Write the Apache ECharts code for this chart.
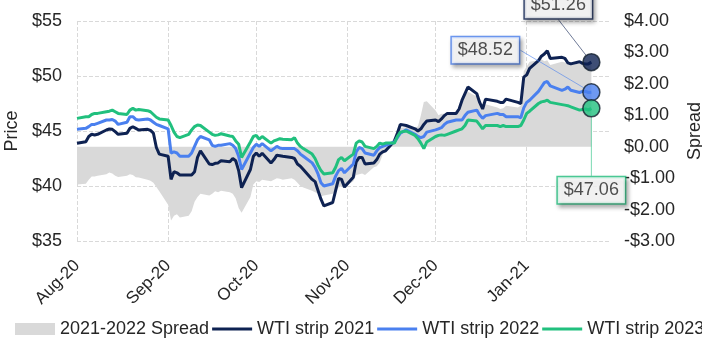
<!DOCTYPE html>
<html>
<head>
<meta charset="utf-8">
<script src="https://cdn.jsdelivr.net/npm/echarts@6/dist/echarts.min.js"></script>
<style>
  html, body { margin: 0; padding: 0; background: #ffffff; }
  #chart { width: 702px; height: 341px; }
</style>
</head>
<body>
<div id="chart"></div>
<script>
// Settlement dates of the calendar-strip series
const tradeDates = [
  '2020-08-07','2020-08-10','2020-08-11','2020-08-12','2020-08-13','2020-08-14',
  '2020-08-17','2020-08-18','2020-08-19','2020-08-20','2020-08-21',
  '2020-08-24','2020-08-25','2020-08-26','2020-08-27','2020-08-28',
  '2020-08-31','2020-09-01','2020-09-02','2020-09-03','2020-09-04',
  '2020-09-07','2020-09-08','2020-09-09','2020-09-10','2020-09-11',
  '2020-09-14','2020-09-15','2020-09-16','2020-09-17','2020-09-18',
  '2020-09-21','2020-09-22','2020-09-23','2020-09-24','2020-09-25',
  '2020-09-28','2020-09-29','2020-09-30','2020-10-01','2020-10-02',
  '2020-10-05','2020-10-06','2020-10-07','2020-10-08','2020-10-09',
  '2020-10-12','2020-10-13','2020-10-14','2020-10-15','2020-10-16',
  '2020-10-19','2020-10-20','2020-10-21','2020-10-22','2020-10-23',
  '2020-10-26','2020-10-27','2020-10-28','2020-10-29','2020-10-30',
  '2020-11-02','2020-11-03','2020-11-04','2020-11-05','2020-11-06',
  '2020-11-09','2020-11-10','2020-11-11','2020-11-12','2020-11-13',
  '2020-11-16','2020-11-17','2020-11-18','2020-11-19','2020-11-20',
  '2020-11-23','2020-11-24','2020-11-25','2020-11-27',
  '2020-11-30','2020-12-01','2020-12-02','2020-12-03','2020-12-04',
  '2020-12-07','2020-12-08','2020-12-09','2020-12-10','2020-12-11',
  '2020-12-14','2020-12-15','2020-12-16','2020-12-17','2020-12-18',
  '2020-12-21','2020-12-22','2020-12-23','2020-12-24',
  '2020-12-28','2020-12-29','2020-12-30','2020-12-31',
  '2021-01-04','2021-01-05','2021-01-06','2021-01-07','2021-01-08',
  '2021-01-11','2021-01-12','2021-01-13','2021-01-14','2021-01-15',
  '2021-01-19','2021-01-20','2021-01-21','2021-01-22',
  '2021-01-25','2021-01-26','2021-01-27','2021-01-28','2021-01-29'
];

// WTI calendar strip prices, $/bbl
const wti2021 = [
  43.88,44.03,44.50,44.70,44.64,44.70,
  45.09,45.18,45.15,44.94,44.70,
  44.79,45.24,45.39,45.24,45.09,
  45.15,45.05,44.80,43.50,42.90,
  42.70,40.60,41.30,41.20,41.00,
  41.00,41.00,41.30,42.60,43.20,
  42.00,41.95,42.06,42.10,42.30,
  42.20,42.50,42.30,41.40,39.85,
  41.50,42.70,43.00,42.70,42.97,
  42.10,42.40,42.80,42.75,42.70,
  42.60,42.50,42.00,41.80,41.50,
  40.60,40.40,39.60,38.80,38.20,
  38.50,39.60,40.70,40.60,39.90,
  40.80,42.20,42.60,42.60,42.00,
  42.10,42.40,42.90,43.10,43.20,
  44.10,44.80,45.60,45.50,
  45.20,45.00,45.20,45.60,45.90,
  46.00,45.85,46.10,46.40,46.60,
  46.60,47.00,47.80,48.40,49.00,
  48.40,47.60,47.00,47.90,
  47.70,47.60,47.60,47.90,
  47.60,47.50,49.90,50.10,50.70,
  51.40,51.80,52.00,52.30,51.60,
  51.70,51.60,51.20,51.10,
  51.30,51.15,51.10,51.10,51.26
];
const wti2022 = [
  45.15,45.24,45.40,45.60,45.60,45.70,
  46.00,46.00,46.05,45.90,45.60,
  45.80,46.30,46.30,46.05,46.00,
  46.10,46.00,45.80,45.60,45.50,
  45.20,43.00,43.10,43.00,42.70,
  42.70,43.00,43.60,44.20,44.50,
  44.20,43.70,43.60,43.70,43.70,
  43.85,43.70,43.40,42.70,41.50,
  43.00,43.50,43.80,43.60,43.85,
  43.20,43.40,43.60,43.45,43.40,
  43.40,43.40,43.20,42.90,42.70,
  42.10,41.70,41.10,40.30,40.00,
  40.20,40.90,41.40,41.60,41.20,
  42.00,43.10,43.50,43.40,43.00,
  42.80,43.20,43.50,43.60,43.70,
  44.00,44.40,44.80,45.10,
  44.70,44.50,44.40,44.50,44.90,
  45.10,45.20,45.30,45.60,45.80,
  46.00,46.00,46.00,46.40,46.70,
  46.90,46.45,46.15,46.40,
  46.60,46.50,46.50,46.30,
  46.30,46.20,47.10,47.60,47.80,
  48.60,49.00,49.40,49.50,49.10,
  48.70,48.80,49.00,48.70,
  48.50,48.60,48.60,48.50,48.52
];
const wti2023 = [
  46.15,46.30,46.30,46.50,46.60,46.60,
  46.75,46.80,46.90,46.75,46.60,
  46.50,46.90,47.06,46.90,46.95,
  46.85,46.75,46.50,46.25,46.10,
  46.00,45.50,44.90,44.50,44.40,
  44.70,45.10,45.40,45.55,45.50,
  44.90,44.70,44.60,44.65,44.75,
  44.55,44.50,44.10,43.80,42.60,
  44.00,44.50,44.60,44.25,44.50,
  43.90,44.10,44.20,44.30,44.25,
  44.20,44.40,43.90,43.60,43.40,
  42.90,42.50,41.90,41.40,41.10,
  41.20,41.70,42.40,42.60,42.30,
  42.90,43.90,44.10,44.00,43.60,
  43.40,43.60,43.90,43.80,43.90,
  43.90,44.50,44.90,45.00,
  44.60,44.30,43.90,43.40,44.00,
  44.50,44.60,44.65,44.60,44.70,
  45.00,45.10,45.20,45.50,46.00,
  45.90,45.55,45.20,45.50,
  45.50,45.40,45.50,45.40,
  45.40,45.50,46.00,46.60,46.80,
  47.50,47.65,47.70,47.80,47.60,
  47.40,47.35,47.30,47.20,
  46.90,46.95,47.00,46.90,47.06
];

// 2021-2022 calendar spread, $/bbl (right axis)
const spread2122 = [
  -1.20,-1.18,-1.05,-0.95,-0.95,-0.92,
  -0.88,-0.82,-0.85,-0.92,-0.96,
  -0.92,-0.88,-0.90,-0.97,-0.98,
  -1.05,-1.08,-1.15,-1.28,-1.42,
  -1.85,-2.35,-2.20,-2.15,-2.25,
  -2.20,-2.05,-1.75,-1.60,-1.50,
  -1.55,-1.50,-1.42,-1.45,-1.40,
  -1.45,-1.50,-1.65,-1.95,-2.10,
  -1.60,-1.20,-1.10,-1.12,-1.05,
  -1.10,-1.05,-1.00,-1.02,-1.05,
  -1.00,-1.05,-1.15,-1.25,-1.30,
  -1.40,-1.45,-1.50,-1.58,-1.55,
  -1.50,-1.40,-1.30,-1.25,-1.30,
  -1.10,-0.90,-0.88,-0.85,-0.90,
  -0.65,-0.62,-0.50,-0.25,-0.15,
  0.15,0.30,0.60,0.62,
  0.60,0.65,1.00,1.42,1.45,
  1.15,1.00,1.05,1.05,1.00,
  1.05,1.20,1.45,1.65,1.75,
  1.60,1.35,1.20,1.35,
  1.25,1.20,1.22,1.30,
  1.25,1.30,2.40,2.55,2.70,
  2.75,2.78,2.72,2.75,2.60,
  2.70,2.68,2.62,2.60,
  2.65,2.62,2.60,2.62,2.74
];

// Month ticks on the date axis
const tickDates  = ['2020-08-07','2020-09-07','2020-10-07','2020-11-07','2020-12-07','2021-01-07'];
const tickLabels = ['Aug-20','Sep-20','Oct-20','Nov-20','Dec-20','Jan-21'];
const axisEndDate = '2021-02-04';

const priceTicks  = { min: 35, max: 55, step: 5 };
const spreadTicks = { min: -3, max: 4, step: 1 };

const names = ['2021-2022 Spread', 'WTI strip 2021', 'WTI strip 2022', 'WTI strip 2023'];
const palette = {
  spread: '#d9d9d9',
  s2021: '#0e2252',
  s2022: '#4a80ef',
  s2023: '#21c07e'
};
const FONT = '"Liberation Sans", Arial, sans-serif';
const TEXT = '#262626';
// flat bar used as the legend key of the price lines
const LINE_KEY = 'path://M0,0H40V0.01H0Z M0,4.5H40V7.5H0Z M0,11.99H40V12H0Z';

// One category per calendar day so gaps follow real time
const DAY = 86400000;
const days = [];
for (let t = Date.parse(tradeDates[0] + 'T00:00:00Z'); t <= Date.parse(axisEndDate + 'T00:00:00Z'); t += DAY) {
  days.push(new Date(t).toISOString().slice(0, 10));
}
function onCalendar(values) {
  const byDate = {};
  tradeDates.forEach((d, i) => { byDate[d] = values[i]; });
  return days.map(d => (d in byDate ? byDate[d] : null));
}
const isTick = (idx, val) => tickDates.indexOf(val) >= 0;
const money = v => (v < 0 ? '-$' : '$') + Math.abs(v).toFixed(2);

function stripLine(name, values, color) {
  return {
    name, type: 'line', yAxisIndex: 0,
    data: onCalendar(values),
    connectNulls: true, symbol: 'none', showSymbol: false,
    lineStyle: { color, width: 3 },
    itemStyle: { color },
    z: 3, animation: false
  };
}

function endMarker(values, color, dx, dy) {
  const last = tradeDates.length - 1;
  return {
    type: 'scatter', yAxisIndex: 0,
    data: [[tradeDates[last], values[last]]],
    symbol: 'circle', symbolSize: 17,
    itemStyle: { color, borderColor: '#14202e', borderWidth: 1.5 },
    label: {
      show: true, position: 'inside',
      formatter: p => '$' + p.value[1].toFixed(2),
      fontFamily: FONT, fontSize: 18, color: TEXT,
      backgroundColor: '#ffffff', borderColor: color, borderWidth: 1.5,
      padding: [4, 6],
      shadowColor: 'rgba(0,0,0,0.35)', shadowBlur: 4, shadowOffsetX: 2, shadowOffsetY: 3
    },
    labelLayout: { dx, dy },
    labelLine: { show: true, length2: 0, lineStyle: { color, width: 1, opacity: 0.6 } },
    z: 6, animation: false
  };
}

const chart = echarts.init(document.getElementById('chart'), null, { renderer: 'canvas' });
chart.setOption({
  animation: false,
  backgroundColor: '#ffffff',
  textStyle: { fontFamily: FONT },
  grid: { left: 77, right: 93, top: 21, bottom: 100, outerBoundsMode: 'none' },
  legend: {
    left: 15, top: 320, width: 1200, padding: 0,
    itemWidth: 40, itemHeight: 12, itemGap: 3,
    textStyle: { fontFamily: FONT, fontSize: 18, color: TEXT },
    data: [
      { name: names[0], icon: 'rect' },
      { name: names[1], icon: LINE_KEY },
      { name: names[2], icon: LINE_KEY },
      { name: names[3], icon: LINE_KEY }
    ]
  },
  xAxis: {
    type: 'category',
    data: days,
    boundaryGap: false,
    axisLine: { show: false },
    axisTick: { show: false },
    axisLabel: {
      interval: isTick,
      formatter: v => tickLabels[tickDates.indexOf(v)],
      rotate: 45, margin: 22,
      fontFamily: FONT, fontSize: 17, color: TEXT
    },
    splitLine: {
      show: true, interval: isTick,
      lineStyle: { color: '#d9d9d9', type: 'dashed', width: 1 }
    }
  },
  yAxis: [
    {
      type: 'value', position: 'left',
      min: priceTicks.min, max: priceTicks.max, interval: priceTicks.step,
      name: 'Price', nameLocation: 'middle', nameRotate: 90, nameGap: 42,
      nameTextStyle: { fontFamily: FONT, fontSize: 18, color: TEXT },
      axisLine: { show: false }, axisTick: { show: false },
      axisLabel: { formatter: v => '$' + v, margin: 15, fontFamily: FONT, fontSize: 18, color: TEXT },
      splitLine: { show: true, lineStyle: { color: '#d9d9d9', type: 'dashed', width: 1 } }
    },
    {
      type: 'value', position: 'right',
      min: spreadTicks.min, max: spreadTicks.max, interval: spreadTicks.step,
      name: 'Spread', nameLocation: 'middle', nameRotate: 90, nameGap: 74,
      nameTextStyle: { fontFamily: FONT, fontSize: 18, color: TEXT },
      axisLine: { show: false }, axisTick: { show: false },
      axisLabel: { formatter: money, margin: 15, fontFamily: FONT, fontSize: 18, color: TEXT },
      splitLine: { show: false }
    }
  ],
  series: [
    {
      name: names[0], type: 'line', yAxisIndex: 1,
      data: onCalendar(spread2122),
      connectNulls: true, symbol: 'none', showSymbol: false,
      lineStyle: { width: 0, color: palette.spread },
      itemStyle: { color: palette.spread },
      areaStyle: { color: palette.spread, opacity: 1 },
      z: 1, animation: false
    },
    stripLine(names[1], wti2021, palette.s2021),
    stripLine(names[2], wti2022, palette.s2022),
    stripLine(names[3], wti2023, palette.s2023),
    endMarker(wti2021, palette.s2021, -33, -57),
    endMarker(wti2022, palette.s2022, -106, -42),
    endMarker(wti2023, palette.s2023, 0, 82)
  ]
});
</script>
</body>
</html>
